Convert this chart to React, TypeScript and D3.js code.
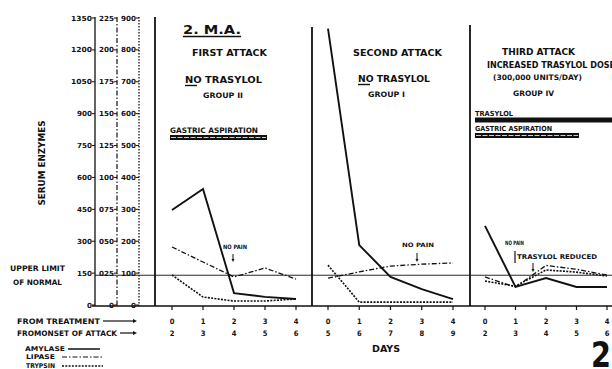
import React from "react";
import * as d3 from "d3";

// ---------- data ----------
const days = [0, 1, 2, 3, 4];
const onsetFirst = [2, 3, 4, 5, 6];
const onsetSecond = [5, 6, 7, 8, 9];
const onsetThird = [2, 3, 4, 5, 6];

const amylaseTicks = [0, 150, 300, 450, 600, 750, 900, 1050, 1200, 1350];
const lipaseTicks = [0, 25, 50, 75, 100, 125, 150, 175, 200, 225];
const lipaseTickLabels = ["0", "025", "050", "075", "100", "125", "150", "175", "200", "225"];
const trypsinTicks = [0, 100, 200, 300, 400, 500, 600, 700, 800, 900];

// amylase on the 0-1350 scale, lipase on 0-225, trypsin on 0-900
const amylaseFirst = [447, 546, 56, 38, 28];
const lipaseFirst = [45.5, 33.7, 22, 29, 20.3];
const trypsinFirst = [94, 25, 12.5, 12.5, 19];

const amylaseSecond = [1300, 282, 132, 75, 28];
const lipaseSecond = [21, 26, 30.5, 32, 33];
const trypsinSecond = [125, 9, 9, 9, 9];

const amylaseThird = [372, 85, 127, 85, 85];
const lipaseThird = [22, 14, 31, 28, 23.5];
const trypsinThird = [75, 59, 110, 103, 91];

const upperLimitNormalAmylase = 140;

// ---------- layout ----------
const W = 612, H = 369;
const Y0 = 305, Y1 = 18;
const FONT = "'DejaVu Sans Condensed', 'DejaVu Sans', sans-serif";

const yAmy = d3.scaleLinear().domain([0, 1350]).range([Y0, Y1]);
const yLip = d3.scaleLinear().domain([0, 225]).range([Y0, Y1]);
const yTry = d3.scaleLinear().domain([0, 900]).range([Y0, Y1]);

const panels = [
  { range: [172, 296], amy: amylaseFirst, lip: lipaseFirst, tr: trypsinFirst, onset: onsetFirst },
  { range: [328, 453], amy: amylaseSecond, lip: lipaseSecond, tr: trypsinSecond, onset: onsetSecond },
  { range: [485, 607], amy: amylaseThird, lip: lipaseThird, tr: trypsinThird, onset: onsetThird },
];

const LIP_DASH = "5,2,1.5,2";
const TRY_DASH = "2,1.3";

function T({ x, y, w, s = 8, children, anchor = "start", weight = "bold", rotate }: any) {
  return (
    <text
      x={x}
      y={y}
      dy="0.36em"
      fontSize={s}
      fontFamily={FONT}
      fontWeight={weight}
      textAnchor={anchor}
      fill="#111"
      textLength={w}
      lengthAdjust={w ? "spacingAndGlyphs" : undefined}
      transform={rotate}
    >
      {children}
    </text>
  );
}

function Arrow({ x1, x2, y }: any) {
  return (
    <g>
      <line x1={x1} x2={x2 - 3} y1={y} y2={y} stroke="#111" strokeWidth={1.2} />
      <path d={`M${x2},${y} L${x2 - 4},${y - 2} L${x2 - 4},${y + 2} Z`} fill="#111" />
    </g>
  );
}

function Down({ x, y1, y2 }: any) {
  return (
    <g>
      <line x1={x} x2={x} y1={y1} y2={y2 - 2} stroke="#111" strokeWidth={1} />
      <path d={`M${x},${y2} L${x - 1.5},${y2 - 3} L${x + 1.5},${y2 - 3} Z`} fill="#111" />
    </g>
  );
}

export default function App() {
  return (
    <svg width={W} height={H} style={{ position: "absolute", left: 0, top: 0, background: "#fff" }}>
      <rect x={0} y={0} width={W} height={H} fill="#fff" />

      {/* left axes */}
      <line x1={95} x2={95} y1={17} y2={306} stroke="#111" strokeWidth={1.3} />
      <line x1={117} x2={117} y1={17} y2={306} stroke="#111" strokeWidth={1.2} strokeDasharray={LIP_DASH} />
      <line x1={139} x2={139} y1={17} y2={306} stroke="#111" strokeWidth={1.3} strokeDasharray="1.5,1.5" />
      {amylaseTicks.map((t) => (
        <g key={"a" + t}>
          <line x1={92} x2={95} y1={yAmy(t)} y2={yAmy(t)} stroke="#111" strokeWidth={1} />
          <T x={92} y={yAmy(t)} s={7} anchor="end" w={t >= 1000 ? 21 : t === 0 ? 5 : 15}>{t}</T>
        </g>
      ))}
      {lipaseTicks.map((t, i) => (
        <g key={"l" + t}>
          <line x1={114} x2={117} y1={yLip(t)} y2={yLip(t)} stroke="#111" strokeWidth={1} />
          <T x={114} y={yLip(t)} s={7} anchor="end" w={t === 0 ? 5 : 15}>{lipaseTickLabels[i]}</T>
        </g>
      ))}
      {trypsinTicks.map((t) => (
        <g key={"t" + t}>
          <line x1={136} x2={139} y1={yTry(t)} y2={yTry(t)} stroke="#111" strokeWidth={1} />
          <T x={136} y={yTry(t)} s={7} anchor="end" w={t === 0 ? 5 : 15}>{t}</T>
        </g>
      ))}

      {/* panel borders */}
      <line x1={155} x2={155} y1={17} y2={306} stroke="#111" strokeWidth={1.8} />
      <line x1={312} x2={312} y1={27} y2={306} stroke="#111" strokeWidth={1.8} />
      <line x1={470} x2={470} y1={25} y2={306} stroke="#111" strokeWidth={1.8} />
      <line x1={92} x2={W} y1={306} y2={306} stroke="#111" strokeWidth={1.5} />

      {/* upper limit of normal */}
      <line x1={95} x2={W} y1={yAmy(upperLimitNormalAmylase)} y2={yAmy(upperLimitNormalAmylase)} stroke="#111" strokeWidth={0.9} />

      {/* series */}
      {panels.map((p, pi) => {
        const x = d3.scaleLinear().domain([0, 4]).range(p.range);
        const lineA = d3.line<number>().x((_, i) => x(days[i])).y((d) => yAmy(d));
        const lineL = d3.line<number>().x((_, i) => x(days[i])).y((d) => yLip(d));
        const lineT = d3.line<number>().x((_, i) => x(days[i])).y((d) => yTry(d));
        return (
          <g key={"p" + pi}>
            <path d={lineL(p.lip) || ""} fill="none" stroke="#111" strokeWidth={1.3} strokeDasharray={LIP_DASH} />
            <path d={lineT(p.tr) || ""} fill="none" stroke="#111" strokeWidth={1.6} strokeDasharray={TRY_DASH} />
            <path d={lineA(p.amy) || ""} fill="none" stroke="#111" strokeWidth={1.9} strokeLinejoin="miter" />
            {days.map((d, i) => (
              <g key={"d" + i}>
                <line x1={x(d)} x2={x(d)} y1={306} y2={310} stroke="#111" strokeWidth={1.2} />
                <T x={x(d)} y={321} s={7.5} anchor="middle">{d}</T>
                <T x={x(d)} y={333} s={7.5} anchor="middle">{p.onset[i]}</T>
              </g>
            ))}
          </g>
        );
      })}

      {/* panel 1 text */}
      <T x={183} y={30} s={12} w={58}>2. M.A.</T>
      <line x1={183} x2={241} y1={36.5} y2={36.5} stroke="#111" strokeWidth={1.6} />
      <T x={192} y={53} s={8} w={75}>FIRST ATTACK</T>
      <T x={185} y={80} s={8} w={77}>NO TRASYLOL</T>
      <line x1={185} x2={197} y1={85.5} y2={85.5} stroke="#111" strokeWidth={1.4} />
      <T x={203} y={95} s={7.5} w={40}>GROUP II</T>
      <T x={170} y={130} s={7.5} w={88}>GASTRIC ASPIRATION</T>
      <rect x={170} y={135} width={97} height={5} fill="#111" />
      <line x1={171} x2={266} y1={137.5} y2={137.5} stroke="#fff" strokeWidth={0.8} strokeDasharray="5,1.5" />
      <T x={223} y={247} s={6} w={24}>NO PAIN</T>
      <Down x={233} y1={254} y2={262} />

      {/* panel 2 text */}
      <T x={353} y={53} s={8} w={89}>SECOND ATTACK</T>
      <T x={358} y={79} s={8} w={72}>NO TRASYLOL</T>
      <line x1={358} x2={370} y1={84.5} y2={84.5} stroke="#111" strokeWidth={1.4} />
      <T x={368} y={94} s={7.5} w={37}>GROUP I</T>
      <T x={402} y={245} s={6} w={32}>NO PAIN</T>
      <Down x={417} y1={253} y2={262} />

      {/* panel 3 text */}
      <T x={502} y={52} s={8} w={73}>THIRD ATTACK</T>
      <T x={487} y={65} s={8} w={128}>INCREASED TRASYLOL DOSE</T>
      <T x={493} y={77} s={7.5} w={89}>(300,000 UNITS/DAY)</T>
      <T x={513} y={93} s={7.5} w={41}>GROUP IV</T>
      <T x={475} y={113} s={7} w={38}>TRASYLOL</T>
      <rect x={475} y={117.5} width={137} height={5} fill="#111" />
      <T x={475} y={128} s={7} w={77}>GASTRIC ASPIRATION</T>
      <rect x={475} y={133} width={104} height={5} fill="#111" />
      <line x1={476} x2={578} y1={135.5} y2={135.5} stroke="#fff" strokeWidth={0.8} strokeDasharray="5,1.5" />
      <T x={505} y={243} s={6} w={19}>NO PAIN</T>
      <line x1={515} x2={515} y1={251} y2={263} stroke="#111" strokeWidth={1.2} />
      <T x={517} y={257} s={6.5} w={80}>TRASYLOL REDUCED</T>
      <Down x={533} y1={263} y2={272} />

      {/* left labels */}
      <T x={0} y={0} s={8} w={85} anchor="middle" rotate="translate(42,163) rotate(-90)">SERUM ENZYMES</T>
      <T x={10} y={268} s={7.5} w={55}>UPPER LIMIT</T>
      <T x={13} y={282} s={7.5} w={49}>OF NORMAL</T>
      <T x={17} y={321} s={7.5} w={83}>FROM TREATMENT</T>
      <Arrow x1={103} x2={137} y={321} />
      <T x={17} y={333} s={7.5} w={100}>FROMONSET OF ATTACK</T>
      <Arrow x1={120} x2={137} y={333} />

      {/* legend */}
      <T x={25} y={349} s={6.5} w={40}>AMYLASE</T>
      <line x1={68} x2={100} y1={349} y2={349} stroke="#111" strokeWidth={1.5} />
      <T x={26} y={357} s={6.5} w={29}>LIPASE</T>
      <line x1={62} x2={103} y1={357} y2={357} stroke="#111" strokeWidth={1.2} strokeDasharray={LIP_DASH} />
      <T x={26} y={366} s={6.5} w={29}>TRYPSIN</T>
      <line x1={62} x2={103} y1={366} y2={366} stroke="#111" strokeWidth={1.4} strokeDasharray={TRY_DASH} />

      <T x={372} y={349} s={8} w={28}>DAYS</T>
      <text x={591} y={367} fontSize={36} fontFamily={FONT} fontWeight="bold" fill="#111" textLength={20} lengthAdjust="spacingAndGlyphs">2</text>
    </svg>
  );
}
